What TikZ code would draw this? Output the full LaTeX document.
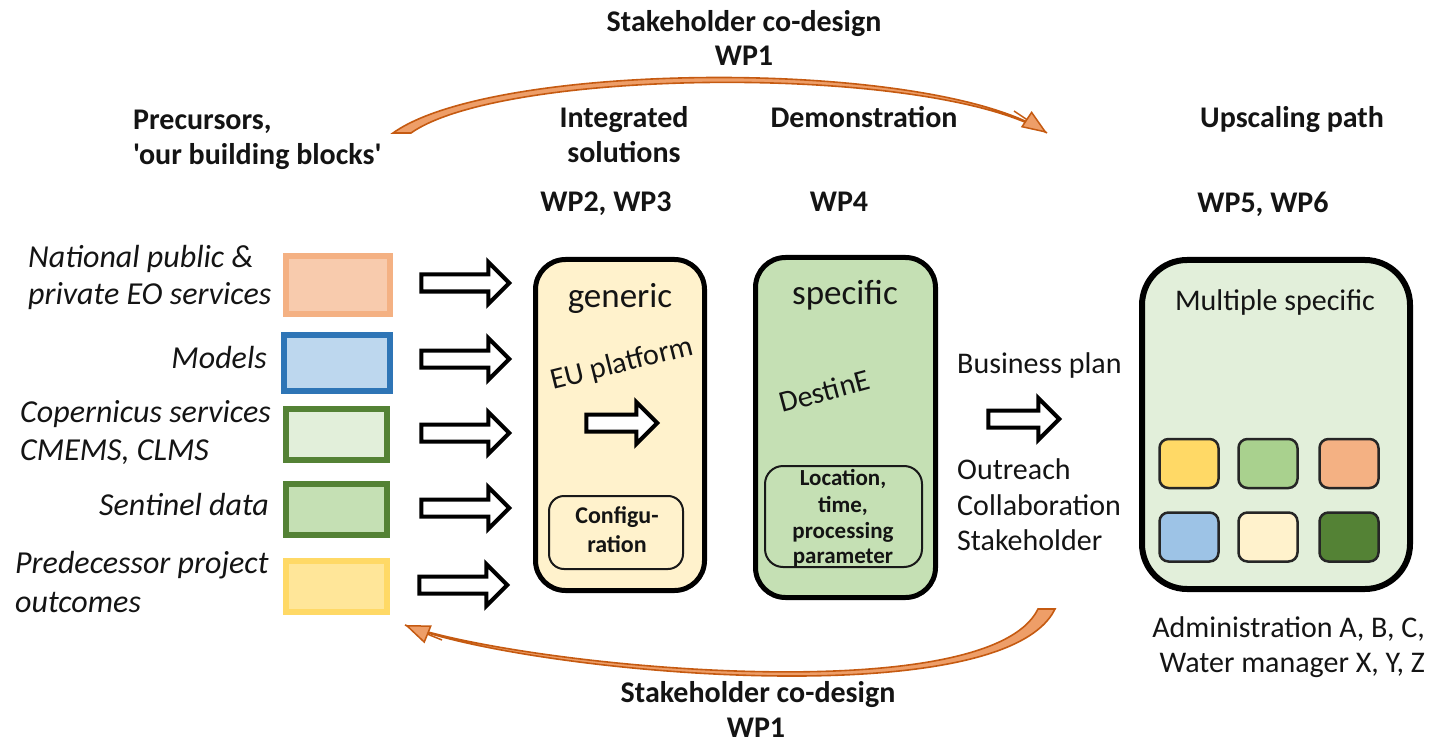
\documentclass[tikz,border=0pt]{standalone}
\usepackage{fontspec}
\setmainfont{Carlito}[Ligatures=TeXOff]
\usetikzlibrary{shapes.arrows,arrows.meta}
\definecolor{orB}{HTML}{F4B183}\definecolor{orF}{HTML}{F8CBAD}
\definecolor{blB}{HTML}{2E75B6}\definecolor{blF}{HTML}{BDD7EE}
\definecolor{gnB}{HTML}{548235}\definecolor{lgF}{HTML}{E2EFDA}\definecolor{gnF}{HTML}{C5E0B4}
\definecolor{ylB}{HTML}{FFD966}\definecolor{ylF}{HTML}{FFE699}
\definecolor{crF}{HTML}{FFF2CC}
\definecolor{arcD}{HTML}{C55A11}\definecolor{arcL}{HTML}{EE9E68}
\definecolor{sqGreen}{HTML}{A9D18E}\definecolor{sqBlue}{HTML}{9DC3E6}
\definecolor{txt}{HTML}{141414}
\tikzset{
  bold/.style={font=\fontsize{30}{35}\selectfont\bfseries, text=txt, inner sep=0pt, anchor=base},
  reg/.style={font=\fontsize{30}{35}\selectfont, text=txt, inner sep=0pt, anchor=base},
  big/.style={font=\fontsize{35}{40}\selectfont, text=txt, inner sep=0pt, anchor=base},
  ital/.style={font=\fontsize{32}{38}\selectfont\itshape, text=txt, inner sep=0pt},
  small/.style={font=\fontsize{23}{27}\selectfont\bfseries, text=txt, inner sep=0pt, anchor=base},
  srcbox/.style={line width=6pt, inner sep=0pt},
  bigbox/.style={draw=black, line width=5pt, rounded corners=30pt, inner sep=0pt},
  innerbox/.style={draw=black!90, line width=2pt, inner sep=0pt},
  hollow/.style={single arrow, draw=black, fill=white, line width=4pt, inner xsep=0pt,
    inner ysep=6.5pt, single arrow head extend=12.5pt, minimum width=0pt, anchor=center},
  sq/.style={draw=black!85, line width=2.5pt, rounded corners=9pt, minimum width=59pt,
    minimum height=49pt, inner sep=0pt},
  arcbody/.style={fill=arcL, draw=arcD, line width=1.6pt},
  arctip/.style={draw=arcD, line width=1.5pt, -{Triangle[length=25pt,width=19pt,fill=arcL]}}
}
\begin{document}
\begin{tikzpicture}[x=1pt,y=-1pt]
\useasboundingbox (0,0) rectangle (1429,743);

% headings
\node[bold] (top1) at (744,32) {Stakeholder co-design};
\node[bold] (top2) at (744,66) {WP1};
\node[bold, anchor=base west] (pre1) at (133,130) {Precursors,};
\node[bold, anchor=base west] (pre2) at (133,165) {'our building blocks'};
\node[bold] (int1) at (624,128) {Integrated};
\node[bold] (int2) at (624,163) {solutions};
\node[bold] (demo) at (864,128) {Demonstration};
\node[bold] (ups) at (1292,128) {Upscaling path};
\node[bold] (wp23) at (606,212) {WP2, WP3};
\node[bold] (wp4) at (839,212) {WP4};
\node[bold] (wp56) at (1263,213) {WP5, WP6};
\node[bold] (bot1) at (758,702) {Stakeholder co-design};
\node[bold] (bot2) at (756,737) {WP1};

% left labels
\node[ital, anchor=base west] (l1a) at (28,268) {National public \&};
\node[ital, anchor=base west] (l1b) at (28,305) {private EO services};
\node[ital, anchor=base east] (l2) at (267,368) {Models};
\node[ital, anchor=base west] (l3a) at (20,422) {Copernicus services};
\node[ital, anchor=base west] (l3b) at (20,460) {CMEMS, CLMS};
\node[ital, anchor=base east] (l4) at (269,515) {Sentinel data};
\node[ital, anchor=base west] (l5a) at (15,573) {Predecessor project};
\node[ital, anchor=base west] (l5b) at (15,612) {outcomes};

% source boxes
\node[srcbox, draw=orB, fill=orF, minimum width=104pt, minimum height=58pt] (b1) at (338,285) {};
\node[srcbox, draw=blB, fill=blF, minimum width=106pt, minimum height=56pt] (b2) at (337,363) {};
\node[srcbox, draw=gnB, fill=lgF, minimum width=101pt, minimum height=51pt] (b3) at (336.5,434.5) {};
\node[srcbox, draw=gnB, fill=gnF, minimum width=101pt, minimum height=51pt] (b4) at (336.5,509.5) {};
\node[srcbox, draw=ylB, fill=ylF, minimum width=101pt, minimum height=51pt] (b5) at (336.5,586.5) {};

% input arrows
\node[hollow, minimum height=88pt] (a1) at (461,283) {};
\node[hollow, minimum height=88pt] (a2) at (461,359) {};
\node[hollow, minimum height=88pt] (a3) at (461,433) {};
\node[hollow, minimum height=88pt] (a4) at (461,508) {};
\node[hollow, minimum height=88pt] (a5) at (459,585) {};

% generic box
\node[bigbox, fill=crF, minimum width=169pt, minimum height=331pt] (gen) at (620,425) {};
\node[big] (gentxt) at (620,307) {generic};
\node[reg, rotate=14] (eu) at (624,372) {EU platform};
\node[hollow, minimum height=71pt] (garr) at (617.5,423) {};
\node[innerbox, rounded corners=15pt, minimum width=134pt, minimum height=73pt] (cfg) at (616,532.5) {};
\node[small, font=\fontsize{24}{28}\selectfont\bfseries] (cfg1) at (617,523) {Configu-};
\node[small, font=\fontsize{24}{28}\selectfont\bfseries] (cfg2) at (617,552) {ration};

% specific box
\node[bigbox, fill=gnF, minimum width=180pt, minimum height=340pt] (spec) at (845.5,427.5) {};
\node[big] (spectxt) at (845,305) {specific};
\node[reg, rotate=15] (dest) at (827,401) {DestinE};
\node[innerbox, rounded corners=18pt, minimum width=157pt, minimum height=101pt] (loc) at (843.5,516.5) {};
\node[small] (loc1) at (843,485) {Location,};
\node[small] (loc2) at (843,512) {time,};
\node[small] (loc3) at (843,538) {processing};
\node[small] (loc4) at (843,563) {parameter};

% business
\node[reg, anchor=base west] (bp) at (957,373) {Business plan};
\node[hollow, minimum height=71pt] (barr) at (1019.5,419) {};
\node[reg, anchor=base west] (o1) at (957,479) {Outreach};
\node[reg, anchor=base west] (o2) at (957,515) {Collaboration};
\node[reg, anchor=base west] (o3) at (957,550) {Stakeholder};

% multiple specific
\node[bigbox, line width=6pt, rounded corners=45pt, fill=lgF, minimum width=268pt, minimum height=329pt] (multi) at (1276,424.5) {};
\node[reg] (mtxt) at (1275,310) {Multiple specific};
\node[sq, fill=ylB] (s1) at (1189,463.5) {};
\node[sq, fill=sqGreen] (s2) at (1268,463.5) {};
\node[sq, fill=orB] (s3) at (1349,463.5) {};
\node[sq, fill=sqBlue] (s4) at (1189,537) {};
\node[sq, fill=crF] (s5) at (1268,537) {};
\node[sq, fill=gnB] (s6) at (1349,537) {};
\node[reg, anchor=base east] (adm1) at (1425,637) {Administration A, B, C,};
\node[reg, anchor=base east] (adm2) at (1425,672) {Water manager X, Y, Z};

% top arc
\coordinate (ts1) at (393,133);
\coordinate (ts2) at (411,133);
\coordinate (te) at (1047,133);
\coordinate (tq) at (1014,111);
\draw[arcbody] (ts1) .. controls (495,60) and (935,58) .. (te)
  .. controls (930,63) and (503,68) .. (ts2) -- cycle;
\draw[arctip] (tq) -- (te);

% bottom arc
\coordinate (bs1) at (1055,609);
\coordinate (bs2) at (1038,609);
\coordinate (be) at (405,625);
\coordinate (bq) at (442,640);
\draw[arcbody] (bs1) .. controls (1002,718) and (520,672) .. (be)
  .. controls (525,667) and (988,712) .. (bs2) -- cycle;
\draw[arctip] (bq) -- (be);
\end{tikzpicture}
\end{document}
